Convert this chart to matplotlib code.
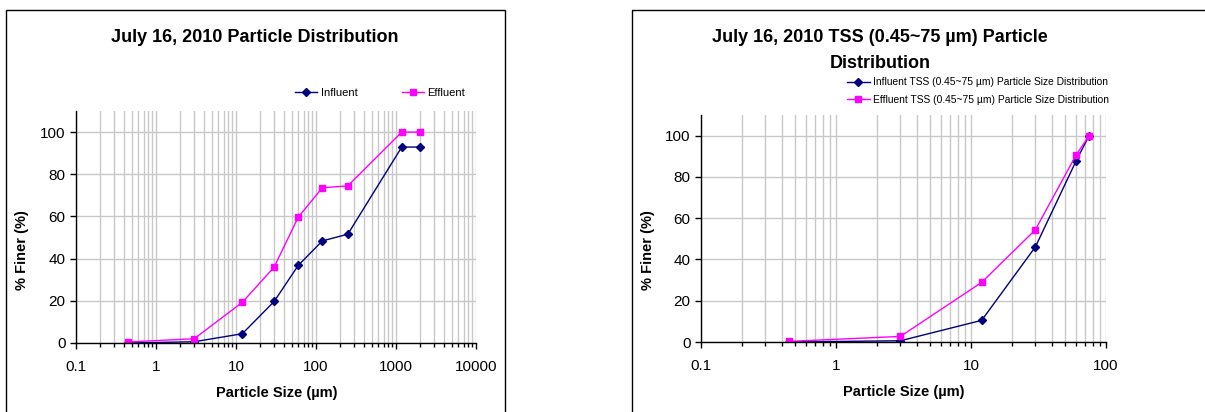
import matplotlib
matplotlib.use("Agg")
import matplotlib.pyplot as plt
from matplotlib.patches import Rectangle
from matplotlib.ticker import LogLocator, NullFormatter, FuncFormatter

plt.rcParams['font.family'] = ['Liberation Sans', 'DejaVu Sans']

# full particle distribution
size_all = [0.45, 3, 12, 30, 60, 120, 250, 1180, 2000]
influent_all = [0.0, 0.6, 4.4, 19.7, 36.8, 48.4, 51.6, 92.9, 92.9]
effluent_all = [0.5, 2.0, 19.3, 36.0, 59.7, 73.6, 74.5, 100.0, 100.0]

# TSS (0.45~75 um) distribution
size_tss = [0.45, 3, 12, 30, 60, 75]
influent_tss = [0.0, 0.6, 10.5, 46.1, 87.7, 100.0]
effluent_tss = [0.3, 2.7, 28.9, 54.4, 90.6, 100.0]

navy = '#000080'
magenta = '#FF00FF'

fig = plt.figure(figsize=(12.05, 4.12), dpi=100)

# chart area borders
fig.patches.append(Rectangle((6 / 1205, -0.01), 499 / 1205, 1 - 10 / 412 + 0.01,
                             transform=fig.transFigure, fill=False, edgecolor='black', lw=1.0))
fig.patches.append(Rectangle((632 / 1205, -0.01), 600 / 1205, 1 - 10 / 412 + 0.01,
                             transform=fig.transFigure, fill=False, edgecolor='black', lw=1.0))


def style_axes(ax, xmax):
    ax.set_xscale('log')
    ax.set_xlim(0.1, xmax)
    ax.set_ylim(0, 110)
    ax.set_yticks([0, 20, 40, 60, 80, 100])
    ax.xaxis.set_major_locator(LogLocator(base=10, numticks=20))
    ax.xaxis.set_minor_locator(LogLocator(base=10, subs=range(2, 10), numticks=20))
    ax.xaxis.set_minor_formatter(NullFormatter())
    ax.xaxis.set_major_formatter(FuncFormatter(lambda v, p: ('%g' % v)))
    ax.grid(True, which='both', axis='x', color='#c8c8c8', lw=1.0)
    ax.grid(True, which='major', axis='y', color='#c8c8c8', lw=1.0)
    ax.set_axisbelow(True)
    for s in ['top', 'right']:
        ax.spines[s].set_visible(False)
    ax.spines['left'].set_linewidth(1.0)
    ax.spines['bottom'].set_linewidth(1.0)
    ax.tick_params(axis='both', which='major', labelsize=11, direction='out', length=4, width=1)
    ax.tick_params(axis='x', which='minor', direction='out', length=3, width=1)
    ax.tick_params(axis='x', pad=8)


# left chart
ax1 = fig.add_axes([76 / 1205, 1 - 343 / 412, 400 / 1205, 232 / 412])
l1, = ax1.plot(size_all, influent_all, color=navy, lw=1, marker='D', ms=4, label='Influent')
l2, = ax1.plot(size_all, effluent_all, color=magenta, lw=1, marker='s', ms=5, label='Effluent')
style_axes(ax1, 10000)
fig.legend(handles=[l1, l2], loc='center left', bbox_to_anchor=(295 / 1205, 1 - 93 / 412),
           ncol=2, frameon=False, fontsize=8, columnspacing=4.0, handlelength=2.0,
           handletextpad=0.3, borderaxespad=0, borderpad=0)
fig.text(255 / 1205, 1 - 38 / 412, 'July 16, 2010 Particle Distribution',
         ha='center', va='center', fontsize=13, fontweight='bold')
fig.text(277 / 1205, 1 - 393 / 412, 'Particle Size (µm)', ha='center', va='center',
         fontsize=10.5, fontweight='bold')
fig.text(22 / 1205, 1 - 250 / 412, '% Finer (%)', ha='center', va='center',
         fontsize=10.5, fontweight='bold', rotation=90)

# right chart
ax2 = fig.add_axes([701 / 1205, 1 - 342 / 412, 405 / 1205, 227 / 412])
r1, = ax2.plot(size_tss, influent_tss, color=navy, lw=1, marker='D', ms=4,
               label='Influent TSS (0.45~75 µm) Particle Size Distribution')
r2, = ax2.plot(size_tss, effluent_tss, color=magenta, lw=1, marker='s', ms=5,
               label='Effluent TSS (0.45~75 µm) Particle Size Distribution')
style_axes(ax2, 100)
fig.legend(handles=[r1, r2], loc='center left', bbox_to_anchor=(847 / 1205, 1 - 91 / 412),
           ncol=1, frameon=False, fontsize=7.4, handlelength=2.2, handletextpad=0.3,
           labelspacing=0.75, borderaxespad=0, borderpad=0)
fig.text(880 / 1205, 1 - 38 / 412, 'July 16, 2010 TSS (0.45~75 µm) Particle',
         ha='center', va='center', fontsize=13, fontweight='bold')
fig.text(880 / 1205, 1 - 63 / 412, 'Distribution',
         ha='center', va='center', fontsize=13, fontweight='bold')
fig.text(904 / 1205, 1 - 392 / 412, 'Particle Size (µm)', ha='center', va='center',
         fontsize=10.5, fontweight='bold')
fig.text(648 / 1205, 1 - 250 / 412, '% Finer (%)', ha='center', va='center',
         fontsize=10.5, fontweight='bold', rotation=90)

plt.savefig('out.png', dpi=100)
plt.close()
